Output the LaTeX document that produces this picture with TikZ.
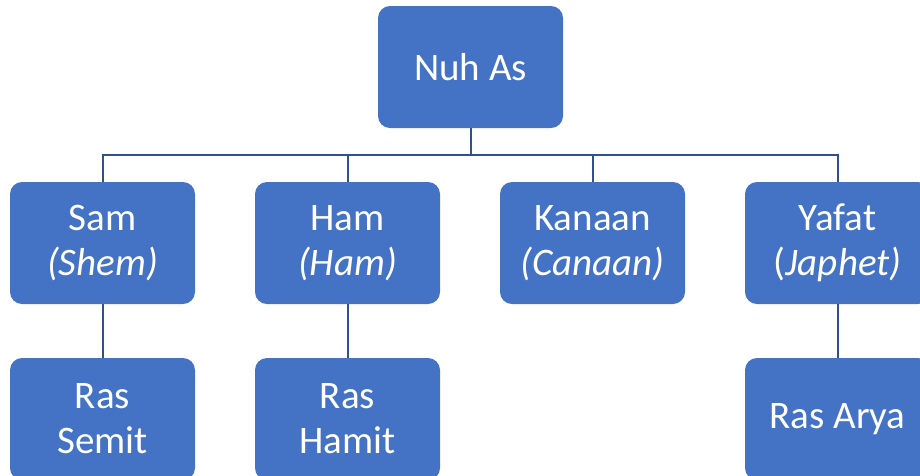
\documentclass[tikz,border=0pt]{standalone}
\usepackage{fontspec}
\setmainfont{Carlito}
\definecolor{boxblue}{HTML}{4472C4}
\definecolor{linkblue}{HTML}{2F528F}
\begin{document}
\begin{tikzpicture}[x=1pt,y=-1pt,
  famnode/.style={rectangle, rounded corners=12pt, fill=boxblue, draw=none,
    minimum width=185pt, minimum height=122pt, inner sep=0pt, align=center,
    text=white, font=\fontsize{39}{45}\selectfont},
  link/.style={draw=linkblue, line width=2pt}]
\useasboundingbox (0,0) rectangle (920,475);
\clip (0,0) rectangle (920,475);
\node[famnode] (nuh) at (470.5,67) {Nuh As};
\node[famnode] (sam) at (102.5,243) {Sam\\\textit{(Shem)}};
\node[famnode] (ham) at (347.5,243) {Ham\\\textit{(Ham)}};
\node[famnode] (kanaan) at (592.5,243) {Kanaan\\\textit{(Canaan)}};
\node[famnode] (yafat) at (837.5,243) {Yafat\\(\textit{Japhet)}};
\node[famnode] (semit) at (102.5,419) {Ras\\Semit};
\node[famnode] (hamit) at (347.5,419) {Ras\\Hamit};
\node[famnode] (arya) at (837.5,419) {Ras Arya};
\coordinate (j) at (470.5,155);
\draw[link] (nuh.south) -- (j);
\draw[link] (sam.north) |- (j);
\draw[link] (ham.north) |- (j);
\draw[link] (kanaan.north) |- (j);
\draw[link] (yafat.north) |- (j);
\draw[link] (sam.south) -- (semit.north);
\draw[link] (ham.south) -- (hamit.north);
\draw[link] (yafat.south) -- (arya.north);
\end{tikzpicture}
\end{document}
